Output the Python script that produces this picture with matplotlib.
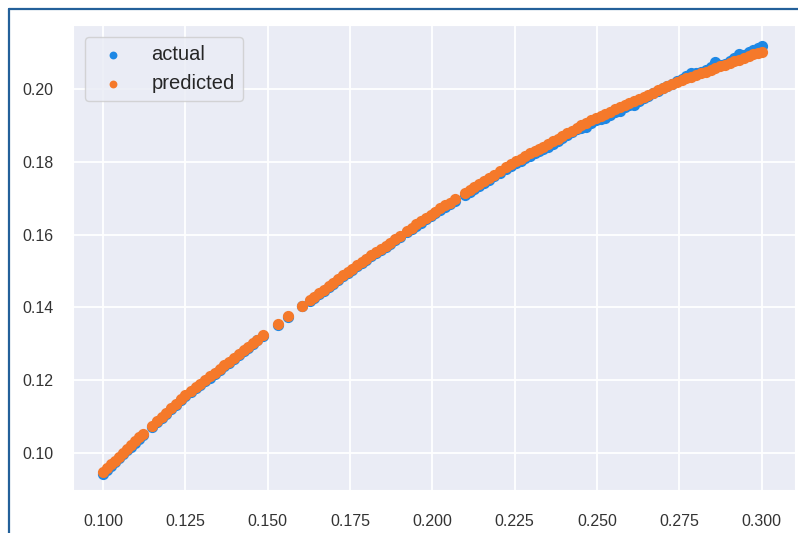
import numpy as np
import matplotlib
matplotlib.use('Agg')
import matplotlib.pyplot as plt
import seaborn as sns
from matplotlib.lines import Line2D

# x values (sorted), predicted and actual values
x_vals = [
    0.1000, 0.1012, 0.1025, 0.1036, 0.1048, 0.1061, 0.1073, 0.1085, 0.1097, 0.1110, 0.1122,
    0.1149, 0.1163, 0.1178, 0.1192, 0.1207, 0.1221, 0.1236, 0.1250, 0.1266, 0.1281, 0.1295,
    0.1310, 0.1324, 0.1339, 0.1354, 0.1368, 0.1383, 0.1398, 0.1412, 0.1427, 0.1441, 0.1455,
    0.1468, 0.1486, 0.1530, 0.1561, 0.1604,
    0.1628, 0.1642, 0.1657, 0.1671, 0.1685, 0.1700, 0.1714, 0.1729, 0.1743, 0.1757,
    0.1772, 0.1786, 0.1800, 0.1815, 0.1829, 0.1843, 0.1858, 0.1872, 0.1886, 0.1901,
    0.1923, 0.1937, 0.1952, 0.1966, 0.1980, 0.1995, 0.2009, 0.2024, 0.2038, 0.2053, 0.2068,
    0.2099, 0.2114, 0.2128, 0.2143, 0.2158, 0.2172, 0.2188, 0.2205,
    0.2225, 0.2240, 0.2254, 0.2268, 0.2283, 0.2297, 0.2311, 0.2323, 0.2335,
    0.2352, 0.2366, 0.2381, 0.2395, 0.2410, 0.2424, 0.2439, 0.2453, 0.2468, 0.2482, 0.2497,
    0.2511, 0.2526, 0.2540, 0.2555, 0.2569, 0.2584, 0.2598, 0.2613, 0.2627, 0.2642,
    0.2656, 0.2671, 0.2685, 0.2700, 0.2714, 0.2729, 0.2743, 0.2758, 0.2772, 0.2787,
    0.2801, 0.2816, 0.2830, 0.2845, 0.2859, 0.2874, 0.2888, 0.2903, 0.2917, 0.2932,
    0.2946, 0.2961, 0.2975, 0.2990, 0.3000,
]

predicted = [
    0.0948, 0.0958, 0.0970, 0.0979, 0.0990, 0.1001, 0.1012, 0.1022, 0.1032, 0.1043, 0.1053,
    0.1075, 0.1087, 0.1099, 0.1110, 0.1123, 0.1134, 0.1147, 0.1158, 0.1169, 0.1180, 0.1190,
    0.1200, 0.1210, 0.1220, 0.1231, 0.1241, 0.1251, 0.1262, 0.1271, 0.1282, 0.1292, 0.1302,
    0.1311, 0.1323, 0.1353, 0.1376, 0.1405,
    0.1420, 0.1429, 0.1439, 0.1449, 0.1458, 0.1468, 0.1478, 0.1488, 0.1497, 0.1506,
    0.1516, 0.1525, 0.1533, 0.1543, 0.1551, 0.1560, 0.1569, 0.1578, 0.1587, 0.1596,
    0.1610, 0.1619, 0.1628, 0.1637, 0.1646, 0.1655, 0.1663, 0.1672, 0.1680, 0.1688, 0.1697,
    0.1714, 0.1723, 0.1731, 0.1739, 0.1748, 0.1756, 0.1765, 0.1774,
    0.1786, 0.1794, 0.1802, 0.1809, 0.1816, 0.1823, 0.1830, 0.1836, 0.1842,
    0.1850, 0.1857, 0.1864, 0.1871, 0.1878, 0.1885, 0.1893, 0.1900, 0.1907, 0.1914, 0.1921,
    0.1926, 0.1932, 0.1938, 0.1944, 0.1950, 0.1956, 0.1961, 0.1967, 0.1973, 0.1979,
    0.1984, 0.1990, 0.1996, 0.2002, 0.2008, 0.2014, 0.2019, 0.2025, 0.2029, 0.2034,
    0.2039, 0.2043, 0.2048, 0.2053, 0.2057, 0.2062, 0.2067, 0.2072, 0.2076, 0.2081,
    0.2085, 0.2090, 0.2095, 0.2100, 0.2103,
]

actual = [
    0.0943, 0.0953, 0.0965, 0.0974, 0.0985, 0.0996, 0.1007, 0.1017, 0.1027, 0.1038, 0.1048,
    0.1072, 0.1084, 0.1096, 0.1107, 0.1120, 0.1131, 0.1144, 0.1155, 0.1166, 0.1177, 0.1187,
    0.1197, 0.1207, 0.1217, 0.1228, 0.1238, 0.1248, 0.1259, 0.1268, 0.1279, 0.1289, 0.1299,
    0.1309, 0.1321, 0.1351, 0.1374, 0.1403,
    0.1417, 0.1426, 0.1436, 0.1446, 0.1455, 0.1465, 0.1475, 0.1485, 0.1494, 0.1503,
    0.1513, 0.1522, 0.1530, 0.1540, 0.1548, 0.1557, 0.1566, 0.1575, 0.1584, 0.1593,
    0.1606, 0.1615, 0.1624, 0.1633, 0.1642, 0.1651, 0.1659, 0.1668, 0.1676, 0.1684, 0.1693,
    0.1709, 0.1718, 0.1726, 0.1734, 0.1743, 0.1751, 0.1760, 0.1769,
    0.1780, 0.1788, 0.1796, 0.1803, 0.1810, 0.1817, 0.1824, 0.1830, 0.1836,
    0.1840, 0.1848, 0.1857, 0.1866, 0.1873, 0.1881, 0.1889, 0.1894, 0.1897, 0.1907, 0.1915,
    0.1919, 0.1921, 0.1930, 0.1936, 0.1941, 0.1950, 0.1956, 0.1957, 0.1966, 0.1975,
    0.1982, 0.1988, 0.1995, 0.2002, 0.2009, 0.2015, 0.2022, 0.2028, 0.2035, 0.2043,
    0.2045, 0.2047, 0.2052, 0.2060, 0.2074, 0.2066, 0.2070, 0.2077, 0.2085, 0.2097,
    0.2094, 0.2101, 0.2106, 0.2112, 0.2118,
]

x_ticks = [0.100, 0.125, 0.150, 0.175, 0.200, 0.225, 0.250, 0.275, 0.300]
y_ticks = [0.10, 0.12, 0.14, 0.16, 0.18, 0.20]

sns.set_style('darkgrid', {'axes.facecolor': '#eaecf5'})
plt.rcParams['font.family'] = ['Liberation Sans', 'DejaVu Sans']

fig = plt.figure(figsize=(7.98, 5.33), dpi=100)
ax = fig.add_axes([0.0915, 0.0807, 0.9045, 0.8724])

ax.scatter(x_vals, actual, s=65, color='#1e88e5', linewidths=0, label='actual')
ax.scatter(x_vals, predicted, s=65, color='#f5792a', linewidths=0, label='predicted')

ax.set_xlim(0.0909, 0.3101)
ax.set_ylim(0.0898, 0.2176)
ax.set_xticks(x_ticks)
ax.set_xticklabels(['%.3f' % t for t in x_ticks])
ax.set_yticks(y_ticks)
ax.set_yticklabels(['%.2f' % t for t in y_ticks])
ax.tick_params(axis='x', labelsize=11.5, pad=14, colors='#333333')
ax.tick_params(axis='y', labelsize=11.5, pad=10.5, colors='#333333')
ax.grid(color='white', linewidth=1.3)

ax.legend(loc='upper left', fontsize=14.5, markerscale=0.7, borderaxespad=0.6,
          handletextpad=0.9, framealpha=0.8)

# screenshot frame (top and left edge)
fig.add_artist(Line2D([0.011, 1.0], [0.983, 0.983], transform=fig.transFigure,
                      color='#23609a', linewidth=1.6))
fig.add_artist(Line2D([0.011, 0.011], [0.0, 0.983], transform=fig.transFigure,
                      color='#23609a', linewidth=1.6))

fig.savefig('out.png', dpi=100, facecolor='white')
